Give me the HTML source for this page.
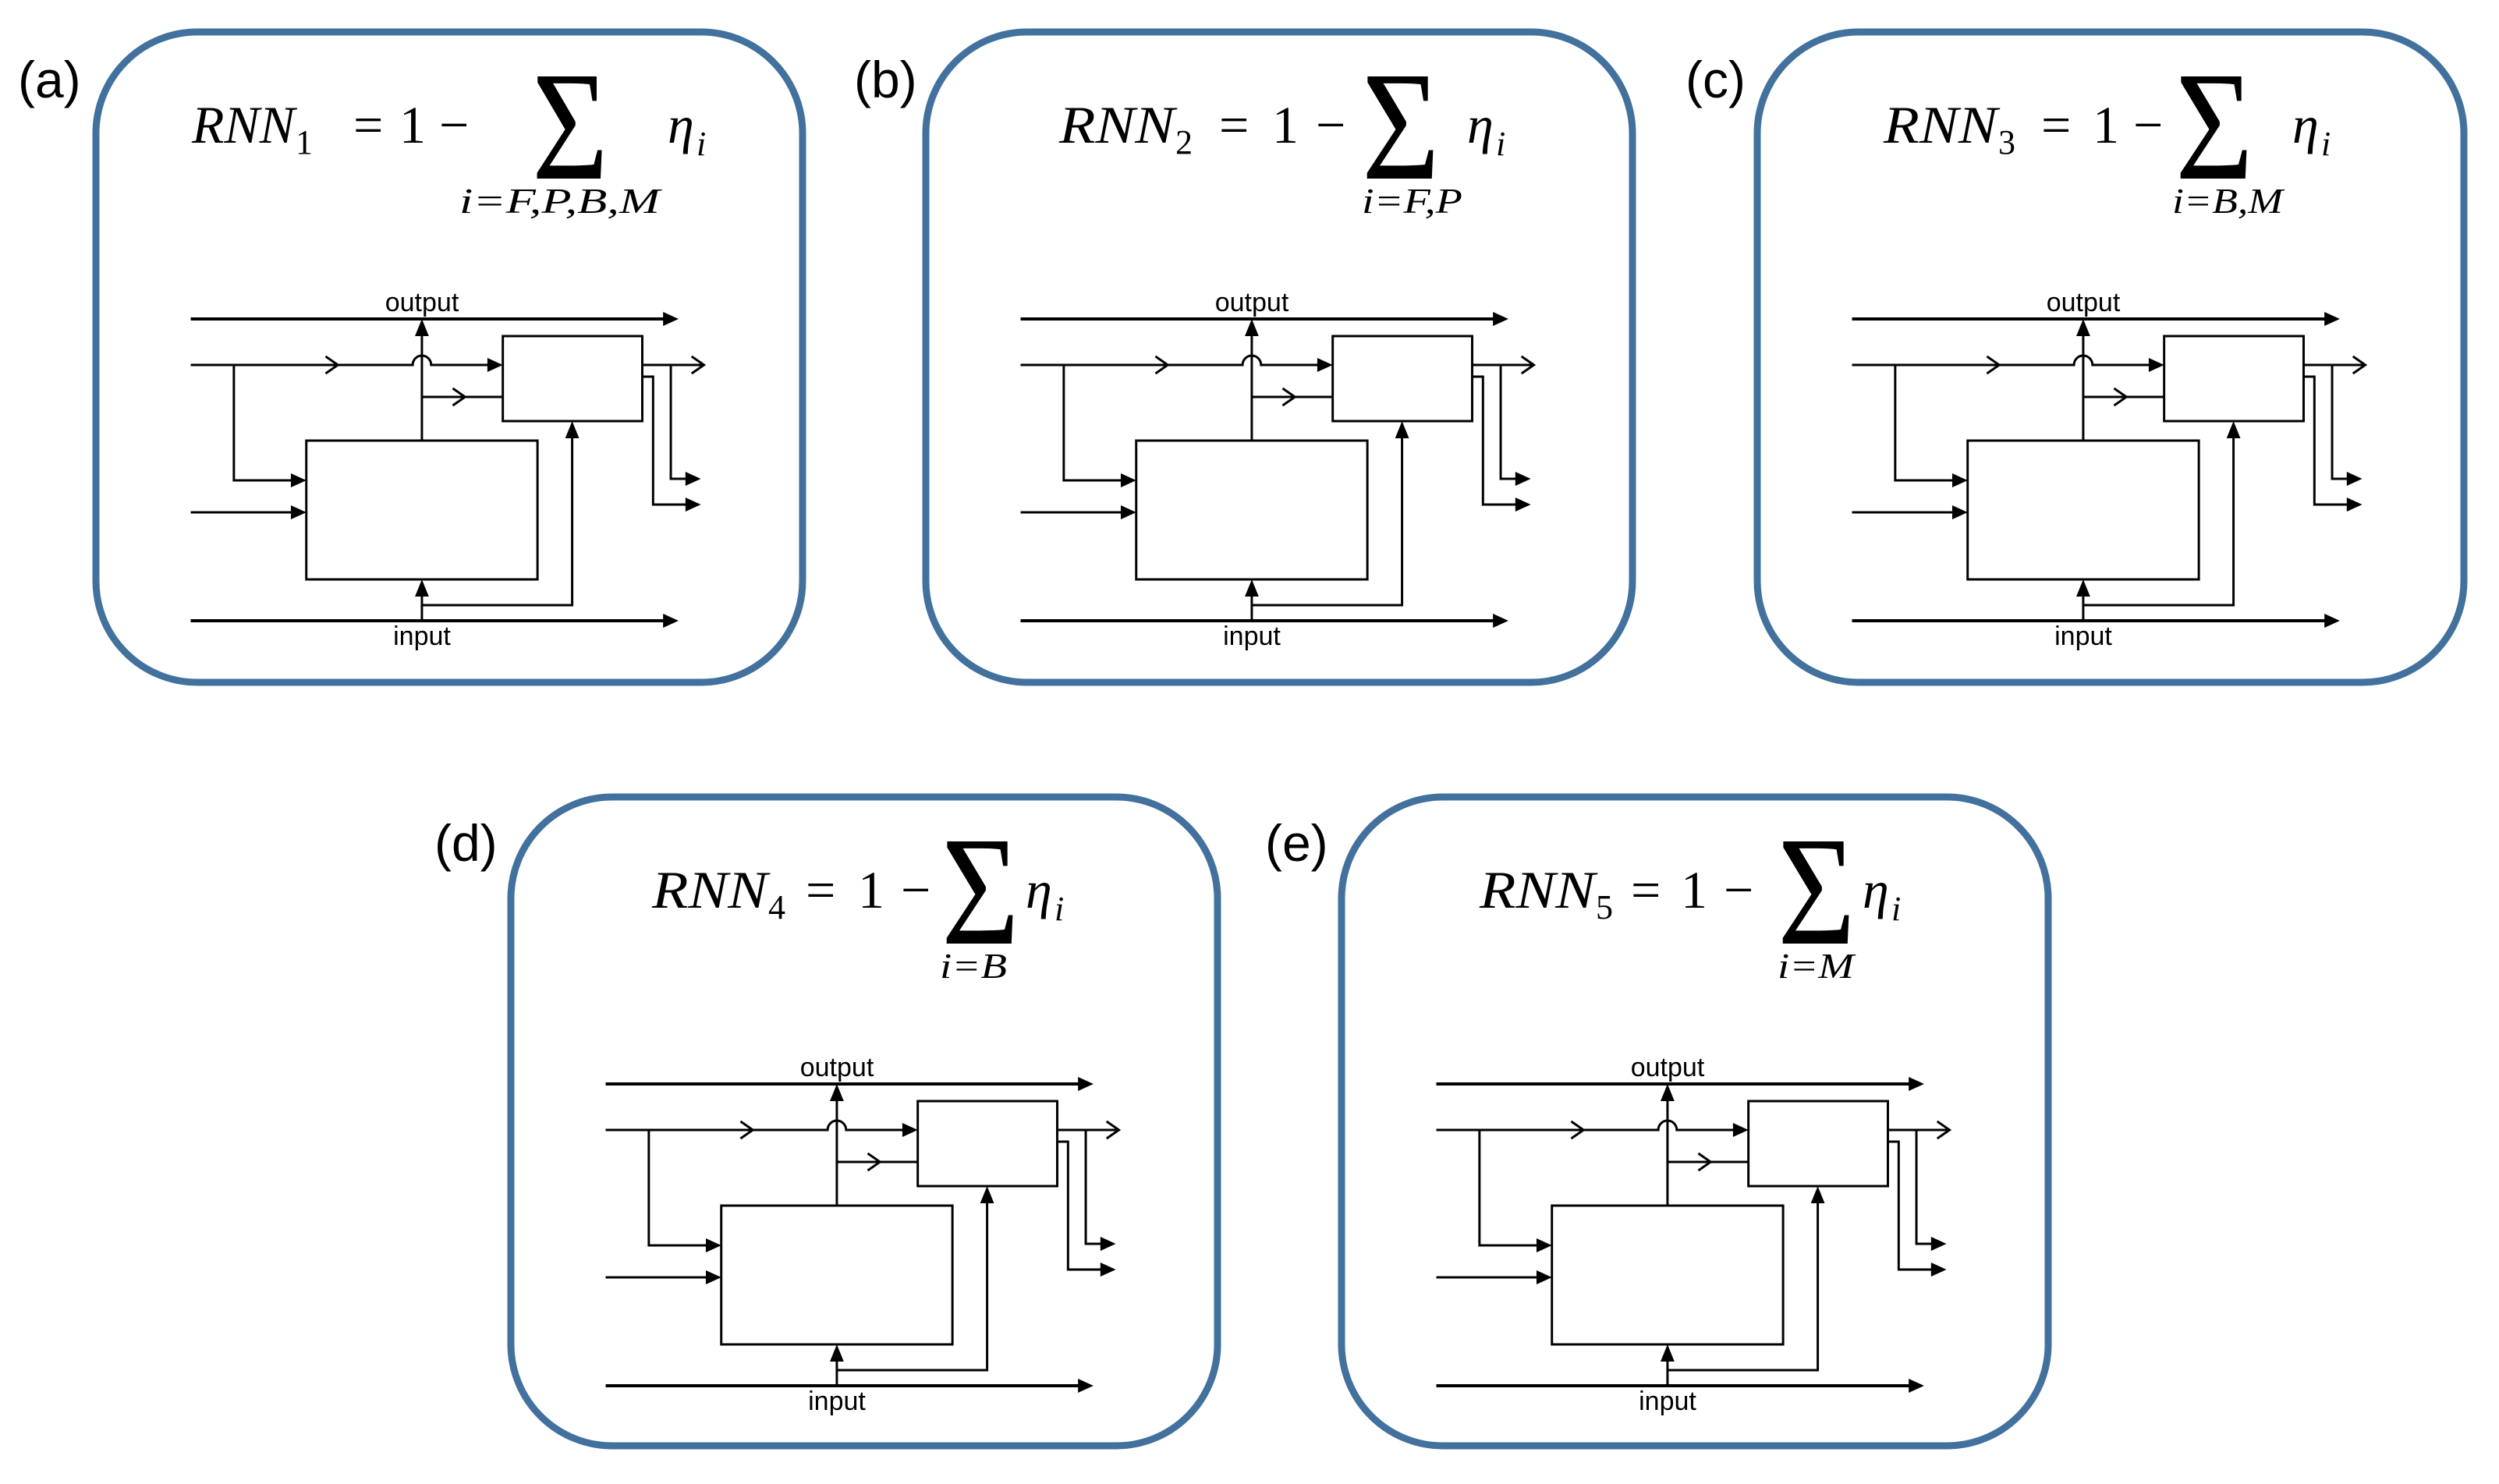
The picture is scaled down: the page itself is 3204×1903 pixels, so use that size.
<!DOCTYPE html>
<html><head><meta charset="utf-8"><style>
html,body{margin:0;padding:0;background:#fff;}
svg{display:block;}
.f{fill:none;stroke:#41719C;stroke-width:9;}
.l{fill:none;stroke:#000;stroke-width:3;}
.t{fill:none;stroke:#000;stroke-width:4;}
.bx{fill:#fff;stroke:#000;stroke-width:3;}
.ch{fill:none;stroke:#000;stroke-width:3;}
.lab{font-family:"Liberation Sans",sans-serif;font-size:66px;fill:#000;}
.dl{font-family:"Liberation Sans",sans-serif;font-size:34px;fill:#000;text-anchor:middle;}
.mi{font-family:"Liberation Serif",serif;font-style:italic;fill:#000;}
.mu{font-family:"Liberation Serif",serif;fill:#000;}
</style></head><body>
<svg width="3204" height="1903" viewBox="0 0 3204 1903" xmlns="http://www.w3.org/2000/svg">
<defs>
<g id="dg">
<path class="t" d="M123,368 H738"/><polygon points="756,368 736,359 736,377"/>
<path class="l" d="M123,427 H411 A12,12 0 0 1 435,427 H510"/><polygon points="528,427 508,418 508,436"/>
<polyline class="ch" points="298,416 314,427 298,438"/>
<path class="l" d="M179,427 V575 H255"/><polygon points="273,575 253,566 253,584"/>
<path class="l" d="M123,616 H255"/><polygon points="273,616 253,607 253,625"/>
<rect class="bx" x="273" y="524" width="300" height="178"/>
<rect class="bx" x="528" y="390" width="181" height="109"/>
<path class="l" d="M423,524 V386"/><polygon points="423,368 414,390 432,390"/>
<path class="l" d="M423,468 H528"/><polyline class="ch" points="463,457 479,468 463,479"/>
<path class="t" d="M123,755 H738"/><polygon points="756,755 736,746 736,764"/>
<path class="l" d="M423,755 V720"/><polygon points="423,702 414,724 432,724"/>
<path class="l" d="M423,735 H618 V517"/><polygon points="618,499 609,521 627,521"/>
<path class="l" d="M709,427 H789"/><polyline class="ch" points="773,416 789,427 773,438"/>
<path class="l" d="M746,427 V573 H767"/><polygon points="785,573 765,564 765,582"/>
<path class="l" d="M709,442 H723 V606 H767"/><polygon points="785,606 765,597 765,615"/>
</g>
</defs>

<!-- (a) -->
<g transform="translate(123,41)">
<rect class="f" x="0" y="0" width="906" height="834" rx="130" ry="130"/>
<text class="lab" x="-100" y="84">(a)</text>
<use href="#dg" transform="scale(0.988,1)"/>
<text class="dl" x="418" y="358">output</text>
<text class="dl" x="418" y="786">input</text>
<text class="mi" x="123" y="142" font-size="68" textLength="132" lengthAdjust="spacingAndGlyphs">RNN</text>
<text class="mu" x="256" y="156" font-size="44">1</text>
<text class="mu" x="330" y="142" font-size="68">=</text>
<text class="mu" x="389" y="142" font-size="68">1</text>
<text class="mu" x="440" y="142" font-size="68">−</text>
<text class="mu" x="559" y="188" font-size="200" textLength="98" lengthAdjust="spacingAndGlyphs">Σ</text>
<text class="mi" x="733" y="142" font-size="68">η</text>
<text class="mi" x="770" y="158" font-size="44">i</text>
<text class="mi" x="466" y="232" font-size="46" textLength="257" lengthAdjust="spacingAndGlyphs">i=F,P,B,M</text>
</g>

<!-- (b) -->
<g transform="translate(1187,41)">
<rect class="f" x="0" y="0" width="906" height="834" rx="130" ry="130"/>
<text class="lab" x="-92" y="84">(b)</text>
<use href="#dg" transform="scale(0.988,1)"/>
<text class="dl" x="418" y="358">output</text>
<text class="dl" x="418" y="786">input</text>
<text class="mi" x="171" y="142" font-size="68" textLength="148" lengthAdjust="spacingAndGlyphs">RNN</text>
<text class="mu" x="320" y="156" font-size="44">2</text>
<text class="mu" x="376" y="142" font-size="68">=</text>
<text class="mu" x="444" y="142" font-size="68">1</text>
<text class="mu" x="500" y="142" font-size="68">−</text>
<text class="mu" x="559" y="188" font-size="200" textLength="100" lengthAdjust="spacingAndGlyphs">Σ</text>
<text class="mi" x="694" y="142" font-size="68">η</text>
<text class="mi" x="731" y="158" font-size="44">i</text>
<text class="mi" x="559" y="232" font-size="46" textLength="129" lengthAdjust="spacingAndGlyphs">i=F,P</text>
</g>

<!-- (c) -->
<g transform="translate(2253,41)">
<rect class="f" x="0" y="0" width="906" height="834" rx="130" ry="130"/>
<text class="lab" x="-92" y="84">(c)</text>
<use href="#dg" transform="scale(0.988,1)"/>
<text class="dl" x="418" y="358">output</text>
<text class="dl" x="418" y="786">input</text>
<text class="mi" x="162" y="142" font-size="68" textLength="146" lengthAdjust="spacingAndGlyphs">RNN</text>
<text class="mu" x="309" y="156" font-size="44">3</text>
<text class="mu" x="364" y="142" font-size="68">=</text>
<text class="mu" x="430" y="142" font-size="68">1</text>
<text class="mu" x="482" y="142" font-size="68">−</text>
<text class="mu" x="536" y="188" font-size="200" textLength="100" lengthAdjust="spacingAndGlyphs">Σ</text>
<text class="mi" x="686" y="142" font-size="68">η</text>
<text class="mi" x="723" y="158" font-size="44">i</text>
<text class="mi" x="532" y="232" font-size="46" textLength="142" lengthAdjust="spacingAndGlyphs">i=B,M</text>
</g>

<!-- (d) -->
<g transform="translate(655,1022)">
<rect class="f" x="0" y="0" width="906" height="832" rx="130" ry="130"/>
<text class="lab" x="-98" y="82">(d)</text>
<use href="#dg" transform="scale(0.988,1)"/>
<text class="dl" x="418" y="358">output</text>
<text class="dl" x="418" y="786">input</text>
<text class="mi" x="181" y="142" font-size="68" textLength="148" lengthAdjust="spacingAndGlyphs">RNN</text>
<text class="mu" x="330" y="156" font-size="44">4</text>
<text class="mu" x="378" y="142" font-size="68">=</text>
<text class="mu" x="445" y="142" font-size="68">1</text>
<text class="mu" x="500" y="142" font-size="68">−</text>
<text class="mu" x="552" y="188" font-size="200" textLength="100" lengthAdjust="spacingAndGlyphs">Σ</text>
<text class="mi" x="660" y="142" font-size="68">η</text>
<text class="mi" x="697" y="158" font-size="44">i</text>
<text class="mi" x="550" y="232" font-size="46" textLength="86" lengthAdjust="spacingAndGlyphs">i=B</text>
</g>

<!-- (e) -->
<g transform="translate(1720,1022)">
<rect class="f" x="0" y="0" width="906" height="832" rx="130" ry="130"/>
<text class="lab" x="-98" y="82">(e)</text>
<use href="#dg" transform="scale(0.988,1)"/>
<text class="dl" x="418" y="358">output</text>
<text class="dl" x="418" y="786">input</text>
<text class="mi" x="177" y="142" font-size="68" textLength="148" lengthAdjust="spacingAndGlyphs">RNN</text>
<text class="mu" x="326" y="156" font-size="44">5</text>
<text class="mu" x="371" y="142" font-size="68">=</text>
<text class="mu" x="435" y="142" font-size="68">1</text>
<text class="mu" x="490" y="142" font-size="68">−</text>
<text class="mu" x="559" y="188" font-size="200" textLength="100" lengthAdjust="spacingAndGlyphs">Σ</text>
<text class="mi" x="668" y="142" font-size="68">η</text>
<text class="mi" x="705" y="158" font-size="44">i</text>
<text class="mi" x="559" y="232" font-size="46" textLength="98" lengthAdjust="spacingAndGlyphs">i=M</text>
</g>
</svg>
</body></html>
